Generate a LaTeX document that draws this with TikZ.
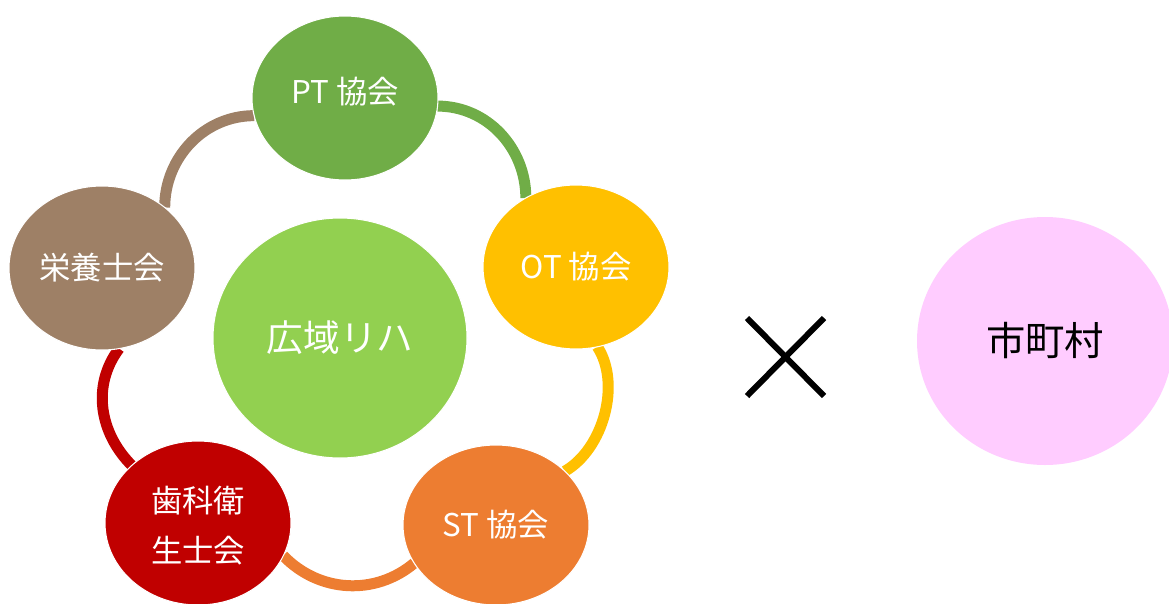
\documentclass[tikz,border=0pt]{standalone}
\usepackage{fontspec}
\setmainfont{Noto Sans CJK JP}
\usetikzlibrary{shapes.geometric,backgrounds}
\definecolor{ptgreen}{HTML}{70AD47}
\definecolor{otyellow}{HTML}{FFC000}
\definecolor{storange}{HTML}{ED7D31}
\definecolor{dred}{HTML}{C00000}
\definecolor{nbrown}{RGB}{158,128,102}
\definecolor{cgreen}{HTML}{92D050}
\definecolor{cpink}{HTML}{FFCCFF}
\begin{document}
\begin{tikzpicture}[x=0.75pt,y=-0.75pt,
  blob/.style={ellipse,inner sep=0pt,outer sep=0pt,draw=white,line width=0.8pt,
    text=white,font=\fontsize{23.5}{37}\selectfont,align=center,
    minimum width=139.5pt,minimum height=123pt},
  ring/.style={line width=8.25pt},
  crossline/.style={line width=4.5pt,black}
]
\useasboundingbox (0,0) rectangle (1169,603);

\node[blob,fill=ptgreen] (PT) at (345,98) {\raisebox{4.5pt}[\height][\depth]{PT 協会}};
\node[blob,fill=otyellow] (OT) at (576,267) {OT 協会};
\node[blob,fill=storange,minimum height=120pt] (ST) at (496,525) {ST 協会};
\node[blob,fill=dred] (DH) at (198,523) {\raisebox{-3.5pt}[\height][\depth]{\begin{tabular}{@{}c@{}}歯科衛\\生士会\end{tabular}}};
\node[blob,fill=nbrown] (NU) at (102,268) {栄養士会};
\node[blob,fill=cgreen,minimum width=190.5pt,minimum height=180pt,
  font=\fontsize{27.5}{33}\selectfont] (C) at (340,338) {広域リハ};
\node[blob,fill=cpink,draw=none,text=black,minimum width=192pt,minimum height=186pt,
  font=\fontsize{29.5}{35}\selectfont] (M) at (1045,341) {市町村};

\begin{pgfonlayer}{background}
\draw[ring,ptgreen] (PT.-5) to[out=0,in=90] (OT.126);
\draw[ring,otyellow] (OT.-75) to[out=-57,in=30,looseness=0.88] (ST.38);
\draw[ring,storange] (DH.-21) to[out=-46,in=220] (ST.205);
\draw[ring,dred] (NU.-78) to[out=-127,in=135] (DH.139);
\draw[ring,nbrown] (PT.191) to[out=180,in=90] (NU.44);
\end{pgfonlayer}

\coordinate (xa) at (747,318);
\coordinate (xb) at (824,396);
\coordinate (xc) at (824,318);
\coordinate (xd) at (747,396);
\draw[crossline] (xa) -- (xb);
\draw[crossline] (xc) -- (xd);
\end{tikzpicture}
\end{document}
